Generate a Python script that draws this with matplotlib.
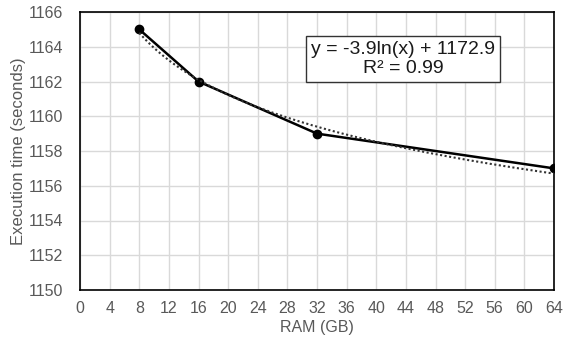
import numpy as np
import matplotlib
matplotlib.use("Agg")
import matplotlib.pyplot as plt

plt.rcParams['font.family'] = ['Liberation Sans', 'DejaVu Sans']

ram_gb = [8, 16, 32, 64]
exec_time = [1165, 1162, 1159, 1157]
x_ticks = list(range(0, 65, 4))
y_ticks = list(range(1150, 1167, 2))

fig = plt.figure(figsize=(5.64, 3.47), dpi=100)
ax = fig.add_axes([80/564, 1 - 290/347, (554-80)/564, (290-12)/347])

# logarithmic trendline fitted from the data
coef = np.polyfit(np.log(ram_gb), exec_time, 1)
xt = np.linspace(min(ram_gb), max(ram_gb), 200)
yt = coef[0]*np.log(xt) + coef[1]
pred = coef[0]*np.log(ram_gb) + coef[1]
r2 = 1 - np.sum((np.array(exec_time)-pred)**2)/np.sum((np.array(exec_time)-np.mean(exec_time))**2)

ax.plot(ram_gb, exec_time, color='black', lw=1.8, marker='o', ms=6, zorder=3)
ax.plot(xt, yt, color='#333333', lw=1.5, ls=(0, (1, 1.2)), zorder=4)

ax.set_xlim(0, 64)
ax.set_ylim(1150, 1166)
ax.set_xticks(x_ticks)
ax.set_yticks(y_ticks)
ax.grid(True, color='#d9d9d9', lw=1)
ax.set_axisbelow(True)
for s in ax.spines.values():
    s.set_color('black')
    s.set_linewidth(1.2)
ax.tick_params(length=0, labelsize=11.5, colors='#595959')
ax.tick_params(axis='y', pad=12)
ax.tick_params(axis='x', pad=8)
ax.set_xlabel('RAM (GB)', fontsize=11.5, color='#595959', labelpad=3)
ax.set_ylabel('Execution time (seconds)', fontsize=12, color='#595959', labelpad=2)

ax.text((403-80)/474, (290-59)/278,
        f"y = {coef[0]:.1f}ln(x) + {coef[1]:.1f}\nR² = {r2:.2f}",
        transform=ax.transAxes, ha='center', va='center', fontsize=14,
        color='#1a1a1a', linespacing=1.2,
        bbox=dict(boxstyle='square,pad=0.25', fc='white', ec='#333333', lw=1))

fig.savefig('out.png', dpi=100)
